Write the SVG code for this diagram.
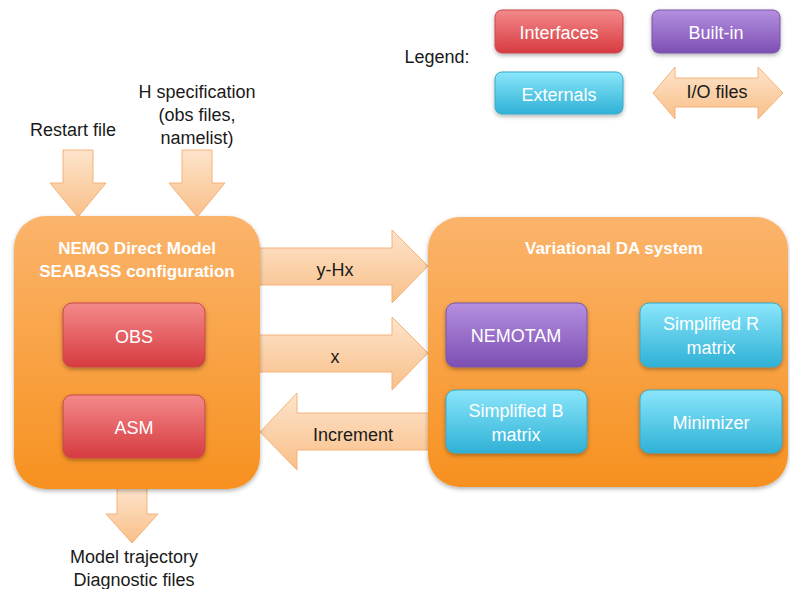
<svg xmlns="http://www.w3.org/2000/svg" width="790" height="589" viewBox="0 0 790 589">
<defs>
<linearGradient id="gOrange" x1="0" y1="0" x2="0" y2="1"><stop offset="0" stop-color="#fbb46c"/><stop offset="1" stop-color="#f7911f"/></linearGradient>
<linearGradient id="gRed" x1="0" y1="0" x2="0" y2="1"><stop offset="0" stop-color="#f4898a"/><stop offset="1" stop-color="#d63b40"/></linearGradient>
<linearGradient id="gPurple" x1="0" y1="0" x2="0" y2="1"><stop offset="0" stop-color="#b58fe0"/><stop offset="1" stop-color="#7c4fb3"/></linearGradient>
<linearGradient id="gCyan" x1="0" y1="0" x2="0" y2="1"><stop offset="0" stop-color="#8ae6fb"/><stop offset="1" stop-color="#2fb1d6"/></linearGradient>
<linearGradient id="gArrow" x1="0" y1="0" x2="0" y2="1"><stop offset="0" stop-color="#fde4cb"/><stop offset="1" stop-color="#f9bf88"/></linearGradient>
<filter id="sh" x="-10%" y="-10%" width="125%" height="130%"><feDropShadow dx="0" dy="2" stdDeviation="2" flood-color="#000" flood-opacity="0.3"/></filter>
</defs>
<style>
text{font-family:"Liberation Sans",Arial,sans-serif;text-anchor:middle}
.lbl{font-size:18px;fill:#1a1a1a}
.w{font-size:18px;fill:#ffffff}
.t{font-size:17px;font-weight:bold;fill:#ffffff}
.arr{fill:url(#gArrow);stroke:#f4b27a;stroke-width:1}
.box{stroke-width:1}
</style>
<rect width="790" height="589" fill="#ffffff"/>

<g id="legend">
<text class="lbl" x="437" y="63">Legend:</text>
<rect x="495" y="10" width="128" height="43" rx="7" fill="url(#gRed)" stroke="#c9484a" filter="url(#sh)"/>
<text class="w" x="559" y="39">Interfaces</text>
<rect x="652" y="10" width="128" height="43" rx="7" fill="url(#gPurple)" stroke="#7a55a8" filter="url(#sh)"/>
<text class="w" x="716" y="39">Built-in</text>
<rect x="495" y="72" width="128" height="42" rx="7" fill="url(#gCyan)" stroke="#3aa9c9" filter="url(#sh)"/>
<text class="w" x="559" y="101">Externals</text>
<path class="arr" d="M653,93 L675,67 L675,78 L758,78 L758,67 L783,93 L758,119 L758,107 L675,107 L675,119 Z"/>
<text class="lbl" x="717" y="98">I/O files</text>
</g>

<g id="connectors">
<path class="arr" d="M63,150 L93,150 L93,183 L106,183 L78,217 L50,183 L63,183 Z"/>
<path class="arr" d="M182,150 L212,150 L212,183 L225,183 L197,217 L169,183 L182,183 Z"/>
<path class="arr" d="M117,488 L147,488 L147,514 L158,514 L132,543 L106,514 L117,514 Z"/>
<path class="arr" d="M258,248 L392,248 L392,230 L428,266 L392,303 L392,285 L258,285 Z"/>
<path class="arr" d="M258,335 L392,335 L392,317 L428,353 L392,390 L392,372 L258,372 Z"/>
<path class="arr" d="M430,413 L297,413 L297,393 L260,432 L297,470 L297,450 L430,450 Z"/>
<text class="lbl" x="335" y="276">y-Hx</text>
<text class="lbl" x="335" y="363">x</text>
<text class="lbl" x="353" y="441">Increment</text>
</g>

<g id="labels">
<text class="lbl" x="73" y="136">Restart file</text>
<text class="lbl" x="197" y="98">H specification</text>
<text class="lbl" x="197" y="121">(obs files,</text>
<text class="lbl" x="197" y="144">namelist)</text>
<text class="lbl" x="134" y="563">Model trajectory</text>
<text class="lbl" x="134" y="586">Diagnostic files</text>
</g>

<g id="nemo">
<rect x="14" y="216" width="246" height="273" rx="32" fill="url(#gOrange)" filter="url(#sh)"/>
<text class="t" x="137" y="254">NEMO Direct Model</text>
<text class="t" x="137" y="277">SEABASS configuration</text>
</g>
<g id="obs">
<rect x="63" y="303" width="142" height="64" rx="9" fill="url(#gRed)" stroke="#c9484a" filter="url(#sh)"/>
<text class="w" x="134" y="343">OBS</text>
</g>
<g id="asm">
<rect x="63" y="395" width="142" height="63" rx="9" fill="url(#gRed)" stroke="#c9484a" filter="url(#sh)"/>
<text class="w" x="134" y="434">ASM</text>
</g>

<g id="vda">
<rect x="428" y="217" width="360" height="270" rx="32" fill="url(#gOrange)" filter="url(#sh)"/>
<text class="t" x="614" y="254">Variational DA system</text>
</g>
<g id="nemotam">
<rect x="446" y="303" width="141" height="64" rx="9" fill="url(#gPurple)" stroke="#7a55a8" filter="url(#sh)"/>
<text class="w" x="516" y="342">NEMOTAM</text>
</g>
<g id="rmatrix">
<rect x="640" y="303" width="142" height="64" rx="9" fill="url(#gCyan)" stroke="#3aa9c9" filter="url(#sh)"/>
<text class="w" x="711" y="330">Simplified R</text>
<text class="w" x="711" y="354">matrix</text>
</g>
<g id="bmatrix">
<rect x="446" y="390" width="141" height="63" rx="9" fill="url(#gCyan)" stroke="#3aa9c9" filter="url(#sh)"/>
<text class="w" x="516" y="417">Simplified B</text>
<text class="w" x="516" y="441">matrix</text>
</g>
<g id="minimizer">
<rect x="640" y="390" width="142" height="63" rx="9" fill="url(#gCyan)" stroke="#3aa9c9" filter="url(#sh)"/>
<text class="w" x="711" y="429">Minimizer</text>
</g>
</svg>
